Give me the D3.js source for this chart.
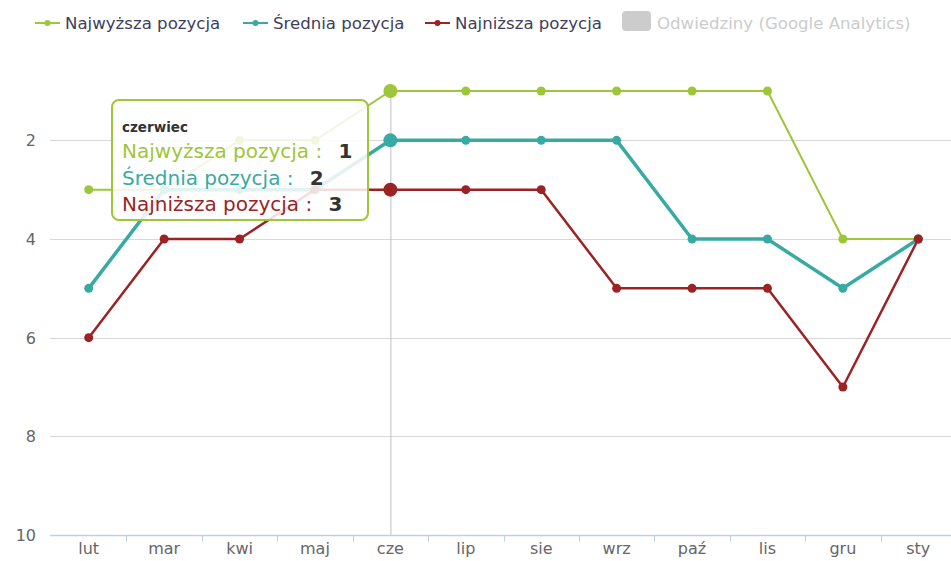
<!DOCTYPE html>
<html lang="pl">
<head>
<meta charset="utf-8">
<title>Pozycje</title>
<script src="https://cdn.jsdelivr.net/npm/d3@7"></script>
<style>
  body { margin: 0; background: #fff; }
  svg { font-family: "DejaVu Sans", Verdana, sans-serif; }
  .grid line { stroke: #d8d8d8; stroke-width: 1; }
  .line { fill: none; }
</style>
</head>
<body>
<script>
// chart size
var w = 951, h = 561;

// data
var months = ["lut", "mar", "kwi", "maj", "cze", "lip", "sie", "wrz", "paź", "lis", "gru", "sty"];
var najwyzsza = [3, 3, 2, 2, 1, 1, 1, 1, 1, 1, 4, 4];
var srednia   = [5, 3, 3, 3, 2, 2, 2, 2, 4, 4, 5, 4];
var najnizsza = [6, 4, 4, 3, 3, 3, 3, 5, 5, 5, 7, 4];
var yTicks = [2, 4, 6, 8, 10];
var seriesNames = ["Najwyższa pozycja", "Średnia pozycja", "Najniższa pozycja"];
var extraLegend = "Odwiedziny (Google Analytics)";
var hoverIndex = 4;
var hoverLabel = "czerwiec";

var colors = ["#9dc63b", "#38aaa3", "#9c2323"];
var widths = [2, 3.5, 2.5];

var series = [najwyzsza, srednia, najnizsza].map(function(vals, i) {
  return { name: seriesNames[i], color: colors[i], width: widths[i],
           values: vals.map(function(v, j) { return { m: months[j], v: v }; }) };
});

var xScale = d3.scaleBand().domain(months).range([51, 956]);
var yScale = d3.scaleLinear().domain([1, 10]).range([91, 535]);
var cx = function(d) { return xScale(d.m) + xScale.bandwidth() / 2; };

var svg = d3.select("body").append("svg")
  .attr("width", w).attr("height", h);

// grid
svg.append("g").attr("class", "grid")
  .selectAll("line").data(yTicks.slice(0, -1)).enter().append("line")
  .attr("x1", 50).attr("x2", w)
  .attr("y1", function(d) { return Math.round(yScale(d)) + 0.5; })
  .attr("y2", function(d) { return Math.round(yScale(d)) + 0.5; });

// y labels
svg.append("g").selectAll("text").data(yTicks).enter().append("text")
  .attr("x", 36).attr("y", function(d) { return yScale(d) + 6; })
  .attr("text-anchor", "end").attr("fill", "#666").style("font-size", "16px")
  .text(function(d) { return d; });

// x axis
var xAxis = d3.axisBottom(xScale).tickSize(0).tickPadding(7);
var gx = svg.append("g").attr("transform", "translate(0," + (yScale(10) + 0.5) + ")").call(xAxis);
gx.select(".domain").attr("stroke", "#c0d0e0").attr("stroke-width", 1.5).attr("d", "M50,0H" + w);
gx.selectAll("text").attr("fill", "#666").style("font-size", "16px").style("font-family", "DejaVu Sans, sans-serif");
gx.selectAll(".tickmark").data(months.slice(1)).enter().append("line")
  .attr("class", "tickmark")
  .attr("x1", function(d) { return Math.round(xScale(d)) + 0.5; })
  .attr("x2", function(d) { return Math.round(xScale(d)) + 0.5; })
  .attr("y1", 0).attr("y2", 6).attr("stroke", "#c0d0e0").attr("stroke-width", 1);

// crosshair
svg.append("line")
  .attr("x1", cx(series[0].values[hoverIndex]) + 0.5).attr("x2", cx(series[0].values[hoverIndex]) + 0.5)
  .attr("y1", yScale(1)).attr("y2", yScale(10))
  .attr("stroke", "#c0c0c0").attr("stroke-width", 1);

// lines
var line = d3.line().x(cx).y(function(d) { return yScale(d.v); });

series.forEach(function(s) {
  var g = svg.append("g");
  g.append("path").datum(s.values).attr("class", "line")
    .attr("stroke", s.color).attr("stroke-width", s.width)
    .attr("stroke-linejoin", "round").attr("d", line);
  g.selectAll("circle").data(s.values).enter().append("circle")
    .attr("cx", cx).attr("cy", function(d) { return yScale(d.v); })
    .attr("r", function(d, i) { return i === hoverIndex ? 7 : 4.5; })
    .attr("fill", s.color);
});

// legend
var legX = [35, 243, 425];
var leg = svg.append("g");
series.forEach(function(s, i) {
  leg.append("line").attr("x1", legX[i]).attr("x2", legX[i] + 25)
    .attr("y1", 23).attr("y2", 23).attr("stroke", s.color).attr("stroke-width", 2);
  leg.append("circle").attr("cx", legX[i] + 12.5).attr("cy", 23).attr("r", 3).attr("fill", s.color);
  leg.append("text").attr("x", legX[i] + 30).attr("y", 29)
    .attr("fill", "#3e3e5c").style("font-size", "16.6px").text(s.name);
});
leg.append("rect").attr("x", 622).attr("y", 11).attr("width", 29).attr("height", 20)
  .attr("rx", 4).attr("fill", "#cccccc");
leg.append("text").attr("x", 657).attr("y", 29).attr("fill", "#cccccc")
  .style("font-size", "16.6px").text(extraLegend);

// tooltip
var tip = svg.append("g");
tip.append("rect").attr("x", 112).attr("y", 100).attr("width", 256).attr("height", 120)
  .attr("rx", 7).attr("fill", "#fff").attr("fill-opacity", 0.85)
  .attr("stroke", colors[0]).attr("stroke-width", 2);
tip.append("text").attr("x", 122).attr("y", 132).attr("fill", "#333")
  .attr("font-weight", "bold").style("font-size", "13.5px").text(hoverLabel);
series.forEach(function(s, i) {
  var t = tip.append("text").attr("x", 122).attr("y", 158 + i * 26.5).style("font-size", "20px");
  t.append("tspan").attr("fill", s.color).text(s.name + " : ");
  t.append("tspan").attr("fill", "#333").attr("font-weight", "bold").attr("dx", 10)
    .text(s.values[hoverIndex].v);
});
</script>
</body>
</html>
